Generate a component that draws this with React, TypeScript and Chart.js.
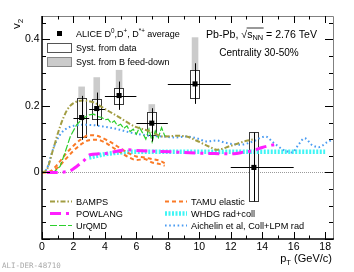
import React, { useEffect, useRef } from 'react';
import { Chart, registerables } from 'chart.js';

Chart.register(...registerables);

const FONT = "'Liberation Sans', Arial, Helvetica, sans-serif";

// ---------------- ALICE D-meson average data ----------------
const ALICE_PT = [2.52, 3.48, 4.9, 6.98, 9.73, 13.47];
const ALICE_PT_LO = [2, 3, 4, 6, 8, 12];
const ALICE_PT_HI = [3, 4, 6, 8, 12, 16];
const ALICE_V2 = [0.165, 0.192, 0.231, 0.148, 0.266, 0.015];
const ALICE_STAT_LO = [0.098, 0.14, 0.188, 0.093, 0.206, -0.087];
const ALICE_STAT_HI = [0.23, 0.24, 0.273, 0.193, 0.328, 0.12];
const ALICE_SYST_LO = [0.105, 0.161, 0.206, 0.113, 0.223, -0.087];
const ALICE_SYST_HI = [0.223, 0.22, 0.255, 0.181, 0.308, 0.121];
const ALICE_FD_LO = [0.165, 0.192, 0.231, 0.148, 0.266, 0.015];
const ALICE_FD_HI = [0.258, 0.286, 0.308, 0.205, 0.406, 0.121];

// ---------------- Model curves ----------------
const BAMPS_PT = [0, 0.3, 0.7, 1.15, 1.6, 2, 2.6, 3.3, 4.1, 5, 5.8, 6.9, 7.7, 8.6, 9.2, 9.8, 10.7, 11.1, 12, 13, 13.5];
const BAMPS_V2 = [0, 0.008, 0.068, 0.138, 0.188, 0.208, 0.216, 0.21, 0.188, 0.163, 0.14, 0.123, 0.108, 0.11, 0.108, 0.096, 0.076, 0.068, 0.08, 0.095, 0.1];

const POWLANG_PT = [0.3, 1.0, 1.5, 1.8, 2.2, 2.65, 3.05, 3.6, 4.2, 5, 5.5, 6, 7, 8.2, 9, 10, 10.7, 11.5, 12.2, 12.9, 13.4, 14, 14.6, 15];
const POWLANG_V2 = [0, 0, 0.002, 0.005, 0.018, 0.035, 0.053, 0.056, 0.058, 0.066, 0.068, 0.066, 0.064, 0.062, 0.06, 0.058, 0.057, 0.056, 0.056, 0.062, 0.065, 0.075, 0.082, 0.085];

const URQMD_PT = [0, 0.5, 0.8, 1.15, 1.45, 1.8, 2.2, 2.6, 3.0, 3.3, 3.5, 3.8, 4.0, 4.2, 4.4, 4.6, 4.8, 5.0, 5.2, 5.4, 5.6, 5.8, 6.0, 6.2, 6.4, 6.6, 6.8, 7.0, 7.2, 7.4, 7.6, 7.8, 8.0];
const URQMD_V2 = [0, 0, 0.003, 0.018, 0.058, 0.108, 0.143, 0.163, 0.173, 0.175, 0.168, 0.165, 0.158, 0.16, 0.148, 0.155, 0.14, 0.145, 0.132, 0.14, 0.123, 0.13, 0.115, 0.135, 0.118, 0.1, 0.13, 0.092, 0.125, 0.105, 0.135, 0.11, 0.108];

const TAMU_PT = [0, 0.5, 1, 1.5, 2, 2.5, 3, 3.5, 4, 4.5, 5, 5.5, 6, 6.5, 7, 7.5, 7.8];
const TAMU_UP_V2 = [0, 0.003, 0.025, 0.055, 0.08, 0.1, 0.112, 0.11, 0.1, 0.087, 0.072, 0.058, 0.048, 0.045, 0.04, 0.035, 0.028];
const TAMU_LO_V2 = [0, 0.001, 0.015, 0.04, 0.065, 0.085, 0.097, 0.098, 0.09, 0.075, 0.06, 0.046, 0.037, 0.04, 0.03, 0.025, 0.02];

const WHDG_PT = [3, 3.5, 4, 5, 6, 8, 10, 12, 14, 16, 18];
const WHDG_V2 = [0.045, 0.05, 0.055, 0.06, 0.062, 0.062, 0.062, 0.062, 0.062, 0.062, 0.062];

const AICH_PT = [0, 0.3, 0.7, 1.1, 1.5, 2.0, 2.6, 3.3, 4.0, 4.8, 5.6, 6.3, 6.9, 7.7, 8.5, 9.2, 9.8, 10.5, 11.1, 11.6, 12.0, 12.6, 13.4, 14.2, 14.7, 15.35, 15.9, 16.3, 16.7, 17.15, 17.6, 18.1, 18.5];
const AICH_V2 = [0, 0.01, 0.07, 0.11, 0.13, 0.14, 0.143, 0.142, 0.137, 0.13, 0.12, 0.114, 0.11, 0.108, 0.105, 0.108, 0.103, 0.093, 0.096, 0.09, 0.086, 0.083, 0.093, 0.108, 0.09, 0.068, 0.06, 0.083, 0.103, 0.083, 0.076, 0.09, 0.1];

// ---------------- Axes ----------------
const X_MIN = 0;
const X_MAX = 18.5;
const Y_MIN = -0.2;
const Y_MAX = 0.47;
const X_LABEL_STEP = 2;
const Y_LABELS = [0, 0.2, 0.4];

const pts = (xs: number[], ys: number[]) => xs.map((x, i) => ({ x, y: ys[i] }));

type Part = [string, 'n' | 'sup' | 'sub'];

function rich(ctx: CanvasRenderingContext2D, x: number, y: number, parts: Part[], size: number, align: 'left' | 'right' | 'center' = 'left') {
  const small = size * 0.7;
  let total = 0;
  const widths: number[] = [];
  for (const [t, m] of parts) {
    ctx.font = `${m === 'n' ? size : small}px ${FONT}`;
    const w = ctx.measureText(t).width;
    widths.push(w);
    total += w;
  }
  let cx = align === 'left' ? x : align === 'right' ? x - total : x - total / 2;
  const starts: number[] = [];
  ctx.textBaseline = 'alphabetic';
  ctx.textAlign = 'left';
  parts.forEach(([t, m], i) => {
    ctx.font = `${m === 'n' ? size : small}px ${FONT}`;
    const dy = m === 'sup' ? -size * 0.42 : m === 'sub' ? size * 0.28 : 0;
    starts.push(cx);
    ctx.fillText(t, cx, y + dy);
    cx += widths[i];
  });
  starts.push(cx);
  return starts;
}

function sample(ctx: CanvasRenderingContext2D, x0: number, x1: number, y: number, color: string, width: number, dash: number[]) {
  ctx.save();
  ctx.strokeStyle = color;
  ctx.lineWidth = width;
  ctx.setLineDash(dash);
  ctx.beginPath();
  ctx.moveTo(x0, y);
  ctx.lineTo(x1, y);
  ctx.stroke();
  ctx.restore();
}

const STYLES = {
  bamps: { color: '#a29d42', width: 2, dash: [5, 2, 1.5, 2] },
  powlang: { color: '#ff1fff', width: 3, dash: [11, 5, 3, 5] },
  urqmd: { color: '#2ccf2c', width: 1.2, dash: [7, 2] },
  tamu: { color: '#fa7a26', width: 2, dash: [4, 3] },
  whdg: { color: '#3ff5f5', width: 4.5, dash: [2, 1.5] },
  aich: { color: '#4a9cf2', width: 2, dash: [1.6, 2.6] },
};

const alicePlugin = {
  id: 'alice',
  beforeDatasetsDraw(chart: any) {
    const { ctx, chartArea: a, scales } = chart;
    const x = scales.x;
    const y = scales.y;
    ctx.save();
    // zero line
    const y0 = Math.round(y.getPixelForValue(0)) + 0.5;
    ctx.strokeStyle = '#9a9a9a';
    ctx.lineWidth = 1;
    ctx.setLineDash([1, 1]);
    ctx.beginPath();
    ctx.moveTo(a.left, y0);
    ctx.lineTo(a.right, y0);
    ctx.stroke();
    ctx.setLineDash([]);
    // B feed-down systematic boxes
    ctx.fillStyle = '#cbcbcb';
    ALICE_PT.forEach((pt, i) => {
      const cx = x.getPixelForValue(pt);
      const top = y.getPixelForValue(ALICE_FD_HI[i]);
      const bot = y.getPixelForValue(ALICE_FD_LO[i]);
      ctx.fillRect(cx - 3.3, top, 6.6, bot - top);
    });
    // data systematic boxes
    ctx.strokeStyle = '#3a3a3a';
    ctx.lineWidth = 1;
    ALICE_PT.forEach((pt, i) => {
      const cx = Math.round(x.getPixelForValue(pt));
      const top = Math.round(y.getPixelForValue(ALICE_SYST_HI[i]));
      const bot = Math.round(y.getPixelForValue(ALICE_SYST_LO[i]));
      ctx.fillStyle = 'rgba(255,255,255,0.85)';
      ctx.fillRect(cx - 4.5, top + 0.5, 9, bot - top);
      ctx.strokeRect(cx - 4.5, top + 0.5, 9, bot - top);
    });
    ctx.restore();
  },
  afterDatasetsDraw(chart: any) {
    const { ctx, scales } = chart;
    const x = scales.x;
    const y = scales.y;
    ctx.save();
    ctx.strokeStyle = '#000';
    ctx.lineWidth = 1;
    ALICE_PT.forEach((pt, i) => {
      const cx = Math.round(x.getPixelForValue(pt)) + 0.5;
      const cy = Math.round(y.getPixelForValue(ALICE_V2[i])) + 0.5;
      ctx.beginPath();
      ctx.moveTo(cx, y.getPixelForValue(ALICE_STAT_HI[i]));
      ctx.lineTo(cx, y.getPixelForValue(ALICE_STAT_LO[i]));
      ctx.moveTo(x.getPixelForValue(ALICE_PT_LO[i]), cy);
      ctx.lineTo(x.getPixelForValue(ALICE_PT_HI[i]), cy);
      ctx.stroke();
    });
    ctx.restore();
  },
  afterDraw(chart: any) {
    const { ctx, chartArea: a, scales } = chart;
    const x = scales.x;
    const y = scales.y;
    ctx.save();
    // frame
    ctx.lineWidth = 1;
    ctx.strokeStyle = '#808080';
    ctx.beginPath();
    ctx.moveTo(a.left, a.top + 0.5);
    ctx.lineTo(a.right + 0.5, a.top + 0.5);
    ctx.lineTo(a.right + 0.5, a.bottom);
    ctx.stroke();
    ctx.strokeStyle = '#000';
    ctx.lineWidth = 1.5;
    ctx.beginPath();
    ctx.moveTo(a.left, a.top);
    ctx.lineTo(a.left, a.bottom);
    ctx.lineTo(a.right + 1, a.bottom);
    ctx.stroke();
    // ticks
    ctx.lineWidth = 1;
    ctx.beginPath();
    for (let k = 0; k <= Math.floor(X_MAX); k++) {
      const px = Math.round(x.getPixelForValue(k)) + 0.5;
      const len = k % X_LABEL_STEP === 0 ? 7 : 3.5;
      ctx.moveTo(px, a.bottom);
      ctx.lineTo(px, a.bottom - len);
      ctx.moveTo(px, a.top);
      ctx.lineTo(px, a.top + len);
    }
    for (let k = -4; k * 0.05 <= Y_MAX + 1e-9; k++) {
      const py = Math.round(y.getPixelForValue(k * 0.05)) + 0.5;
      const len = k % 4 === 0 ? 8 : 4;
      ctx.moveTo(a.left, py);
      ctx.lineTo(a.left + len, py);
      ctx.moveTo(a.right, py);
      ctx.lineTo(a.right - len, py);
    }
    ctx.stroke();

    ctx.fillStyle = '#000';
    // axis titles
    ctx.save();
    ctx.translate(19.5, 29);
    ctx.rotate(-Math.PI / 2);
    rich(ctx, 0, 0, [['v', 'n'], ['2', 'sub']], 11.5);
    ctx.restore();
    rich(ctx, 332, 262, [['p', 'n'], ['T', 'sub'], [' (GeV/', 'n'], ['c', 'n'], [')', 'n']], 11, 'right');

    // top-left legend
    ctx.fillStyle = '#000';
    ctx.fillRect(57, 31, 5, 5);
    ctx.fillStyle = '#fff';
    ctx.strokeStyle = '#555';
    ctx.lineWidth = 1;
    ctx.fillRect(47.5, 43.5, 24, 9);
    ctx.strokeRect(47.5, 43.5, 24, 9);
    ctx.fillStyle = '#cbcbcb';
    ctx.fillRect(47.5, 57.5, 24, 9);
    ctx.strokeStyle = '#8a8a8a';
    ctx.strokeRect(47.5, 57.5, 24, 9);
    ctx.fillStyle = '#000';
    rich(ctx, 76, 37, [['ALICE D', 'n'], ['0', 'sup'], [',D', 'n'], ['+', 'sup'], [', D', 'n'], ['*+', 'sup'], [' average', 'n']], 9);
    rich(ctx, 76, 51, [['Syst. from data', 'n']], 9);
    rich(ctx, 76, 65, [['Syst. from B feed-down', 'n']], 9);

    // top-right text
    const st = rich(ctx, 206, 37.5, [['Pb-Pb, ', 'n'], ['\u221A', 'n'], ['s', 'n'], ['NN', 'sub'], [' = 2.76 TeV', 'n']], 10.6);
    ctx.strokeStyle = '#000';
    ctx.lineWidth = 0.8;
    ctx.beginPath();
    ctx.moveTo(st[2] - 0.5, 28);
    ctx.lineTo(st[4] + 0.5, 28);
    ctx.stroke();
    rich(ctx, 259, 56, [['Centrality 30-50%', 'n']], 10, 'center');

    // bottom legend
    const rows = [201.5, 213.5, 225.5];
    sample(ctx, 50, 72, rows[0], STYLES.bamps.color, STYLES.bamps.width, STYLES.bamps.dash);
    sample(ctx, 50, 72, rows[1], STYLES.powlang.color, STYLES.powlang.width, STYLES.powlang.dash);
    sample(ctx, 50, 72, rows[2], STYLES.urqmd.color, STYLES.urqmd.width, STYLES.urqmd.dash);
    sample(ctx, 165, 187, rows[0], STYLES.tamu.color, STYLES.tamu.width, STYLES.tamu.dash);
    sample(ctx, 165, 187, rows[1], STYLES.whdg.color, STYLES.whdg.width, STYLES.whdg.dash);
    sample(ctx, 165, 187, rows[2], STYLES.aich.color, STYLES.aich.width, STYLES.aich.dash);
    ctx.fillStyle = '#000';
    rich(ctx, 76, rows[0] + 3.3, [['BAMPS', 'n']], 9.2);
    rich(ctx, 76, rows[1] + 3.3, [['POWLANG', 'n']], 9.2);
    rich(ctx, 76, rows[2] + 3.3, [['UrQMD', 'n']], 9.2);
    rich(ctx, 191, rows[0] + 3.3, [['TAMU elastic', 'n']], 9.2);
    rich(ctx, 191, rows[1] + 3.3, [['WHDG rad+coll', 'n']], 9.2);
    rich(ctx, 191, rows[2] + 3.3, [['Aichelin et al, Coll+LPM rad', 'n']], 9.2);

    // watermark
    ctx.fillStyle = '#a8a8a8';
    ctx.font = `7.5px 'DejaVu Sans Mono', 'Liberation Mono', monospace`;
    ctx.textAlign = 'left';
    ctx.textBaseline = 'middle';
    ctx.fillText('ALI-DER-48710', 2, 266.5);
    ctx.restore();
  },
};

const line = (data: { x: number; y: number }[], st: { color: string; width: number; dash: number[] }, mono = true) => ({
  data,
  showLine: true,
  borderColor: st.color,
  backgroundColor: st.color,
  borderWidth: st.width,
  borderDash: st.dash,
  pointRadius: 0,
  fill: false,
  cubicInterpolationMode: mono ? 'monotone' : 'default',
  tension: 0,
});

export default function App() {
  const ref = useRef<HTMLCanvasElement>(null);
  useEffect(() => {
    if (!ref.current) return;
    const chart = new Chart(ref.current, {
      type: 'scatter',
      data: {
        datasets: [
          {
            data: pts(ALICE_PT, ALICE_V2),
            pointStyle: 'rect',
            pointRadius: 3.6,
            backgroundColor: '#000',
            borderWidth: 0,
            showLine: false,
            order: 0,
          } as any,
          { ...line(pts(BAMPS_PT, BAMPS_V2), STYLES.bamps), order: 2 },
          { ...line(pts(URQMD_PT, URQMD_V2), STYLES.urqmd, false), order: 3 },
          { ...line(pts(AICH_PT, AICH_V2), STYLES.aich), order: 4 },
          { ...line(pts(TAMU_PT, TAMU_UP_V2), STYLES.tamu), order: 5 },
          { ...line(pts(TAMU_PT, TAMU_LO_V2), STYLES.tamu), order: 6 },
          { ...line(pts(WHDG_PT, WHDG_V2), STYLES.whdg), order: 7 },
          { ...line(pts(POWLANG_PT, POWLANG_V2), STYLES.powlang), order: 1 },
        ],
      },
      options: {
        responsive: false,
        maintainAspectRatio: false,
        devicePixelRatio: 1,
        animation: false,
        events: [],
        layout: { padding: { top: 16, right: 21, left: 0, bottom: 0 } },
        plugins: { legend: { display: false }, tooltip: { enabled: false } },
        scales: {
          x: {
            type: 'linear',
            min: X_MIN,
            max: X_MAX,
            grid: { display: false, drawTicks: false },
            border: { display: false },
            ticks: {
              stepSize: X_LABEL_STEP,
              includeBounds: false,
              color: '#000',
              font: { family: FONT, size: 10.5 },
              padding: 2,
              maxRotation: 0,
              autoSkip: false,
              callback: (v: any) => String(Math.round(Number(v))),
            },
            afterFit: (s: any) => {
              s.height = 33;
            },
          },
          y: {
            type: 'linear',
            min: Y_MIN,
            max: Y_MAX,
            grid: { display: false, drawTicks: false },
            border: { display: false },
            afterBuildTicks: (s: any) => {
              s.ticks = Y_LABELS.map((v) => ({ value: v }));
            },
            ticks: {
              color: '#000',
              font: { family: FONT, size: 10.5 },
              padding: 2.5,
              autoSkip: false,
              callback: (v: any) => String(Math.round(Number(v) * 10) / 10),
            },
            afterFit: (s: any) => {
              s.width = 42;
            },
          },
        },
      } as any,
      plugins: [alicePlugin],
    });
    return () => chart.destroy();
  }, []);
  return (
    <div style={{ position: 'absolute', left: 0, top: 0, width: 354, height: 272, background: '#fff' }}>
      <canvas ref={ref} width={354} height={272} style={{ display: 'block', width: 354, height: 272 }} />
    </div>
  );
}
